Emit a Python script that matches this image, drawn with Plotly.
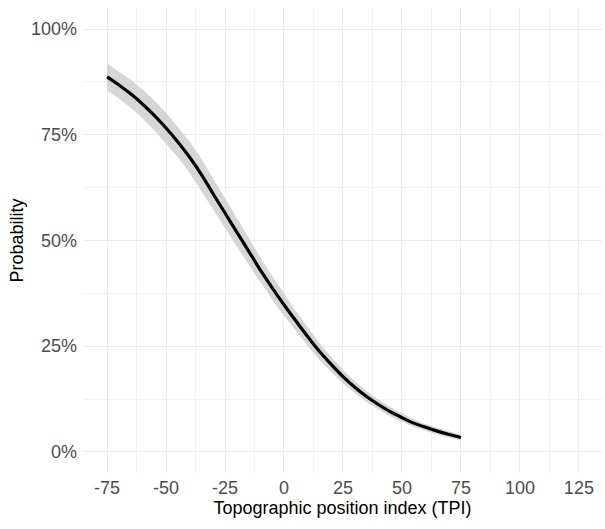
import plotly.graph_objects as go

# Topographic position index values at which the fitted probability is shown
tpi = [-75, -70, -65, -60, -55, -50, -45, -40, -35, -30, -25, -20, -15, -10, -5,
       0, 5, 10, 15, 20, 25, 30, 35, 40, 45, 50, 55, 60, 65, 70, 75]

# Predicted probability (%)
prob = [88.7, 86.8, 84.7, 82.3, 79.6, 76.6, 73.3, 69.7, 65.6, 61.0, 56.5, 52.0, 47.5, 43.0, 38.8,
        34.8, 31.0, 27.3, 23.8, 20.7, 17.8, 15.3, 13.1, 11.2, 9.5, 8.1, 6.8, 5.8, 4.9, 4.1, 3.4]

# Confidence band (%)
ci_low = [85.5, 83.6, 81.4, 78.9, 76.1, 73.0, 69.7, 66.0, 61.9, 57.4, 53.0, 48.6, 44.3, 40.0, 36.0,
          32.2, 28.6, 25.1, 21.8, 18.9, 16.2, 13.9, 11.8, 10.0, 8.4, 7.1, 5.9, 5.0, 4.1, 3.4, 2.7]
ci_high = [91.9, 90.0, 88.0, 85.7, 83.1, 80.2, 76.9, 73.4, 69.3, 64.6, 60.0, 55.4, 50.7, 46.0, 41.6,
           37.4, 33.4, 29.5, 25.8, 22.5, 19.4, 16.7, 14.4, 12.4, 10.6, 9.1, 7.7, 6.6, 5.7, 4.8, 4.1]

x_ticks = [-75, -50, -25, 0, 25, 50, 75, 100, 125]
y_ticks = [0, 25, 50, 75, 100]

font_family = "Liberation Sans, Arial, sans-serif"

fig = go.Figure()
fig.add_trace(go.Scatter(
    x=tpi + tpi[::-1], y=ci_high + ci_low[::-1],
    fill="toself", fillcolor="rgb(214,214,214)",
    line=dict(width=0), mode="lines", hoverinfo="skip", showlegend=False,
))
fig.add_trace(go.Scatter(
    x=tpi, y=prob, mode="lines",
    line=dict(color="black", width=3.2, shape="spline"), showlegend=False,
))

axis_common = dict(
    showgrid=True, gridcolor="#ebebeb", gridwidth=1,
    minor=dict(showgrid=True, gridcolor="#f2f2f2", gridwidth=0.7),
    zeroline=False, showline=False, ticks="",
    tickfont=dict(family=font_family, size=18, color="#4d4d4d"),
    title_font=dict(family=font_family, size=18, color="black"),
)

fig.update_xaxes(
    range=[-85.2, 134.8], tickmode="array", tickvals=x_ticks,
    ticktext=[str(v) for v in x_ticks],
    minor_tickvals=[-62.5, -37.5, -12.5, 12.5, 37.5, 62.5, 87.5, 112.5],
    title_text="Topographic position index (TPI)", title_standoff=4,
    ticklabelstandoff=2,
    **axis_common,
)
fig.update_yaxes(
    range=[-5, 105], tickmode="array", tickvals=y_ticks,
    ticktext=[f"{v}%" for v in y_ticks],
    minor_tickvals=[12.5, 37.5, 62.5, 87.5],
    title_text="Probability", title_standoff=2,
    ticklabelstandoff=5,
    **axis_common,
)

fig.update_layout(
    width=605, height=529,
    margin=dict(l=83, r=3, t=8, b=56),
    plot_bgcolor="white", paper_bgcolor="white",
    font=dict(family=font_family),
)

fig.write_html("out.html")
